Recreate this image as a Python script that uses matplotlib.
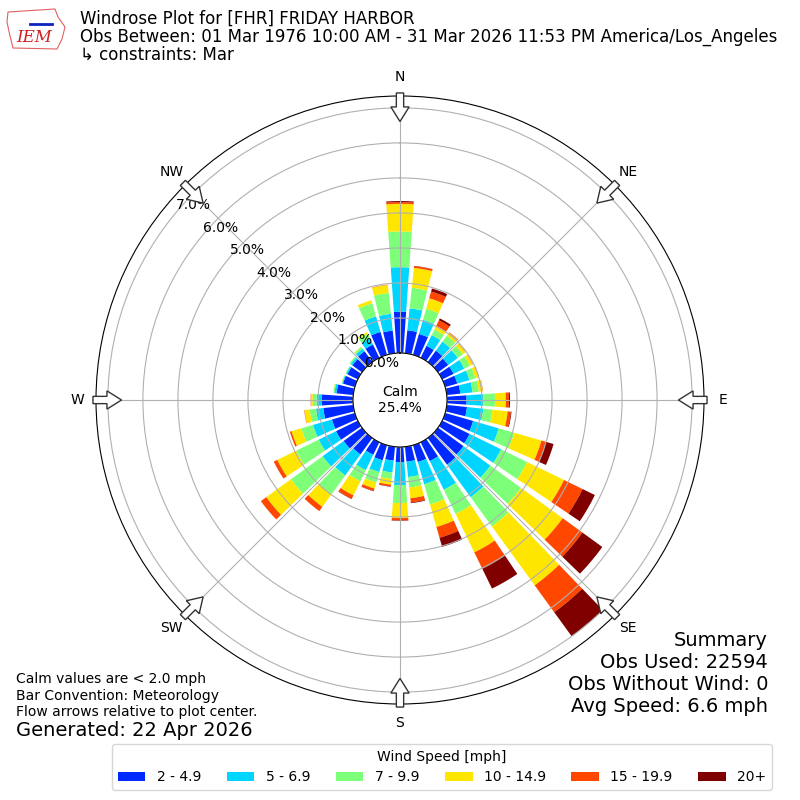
import numpy as np
import matplotlib
matplotlib.use("Agg")
import matplotlib.pyplot as plt
from matplotlib.patches import FancyArrow, Polygon

# wind directions (deg, meteorological, where the wind comes from)
directions = np.arange(0, 360, 10)

# percent of observations per direction for each speed bin
spd_2_5 = [1.18, 0.66, 0.62, 0.38, 0.40, 0.36, 0.36, 0.36, 0.39, 0.56, 0.58, 0.83,
           0.87, 0.90, 0.94, 0.60, 0.50, 0.43, 0.43, 0.40, 0.45, 0.40, 0.58, 0.65,
           0.69, 0.68, 0.86, 0.90, 0.48, 0.35, 0.33, 0.34, 0.38, 0.42, 0.68, 0.65]
spd_5_7 = [1.27, 0.63, 0.42, 0.34, 0.32, 0.34, 0.34, 0.36, 0.35, 0.48, 0.47, 0.76,
           1.00, 0.95, 1.15, 0.91, 0.66, 0.44, 0.66, 0.34, 0.35, 0.49, 0.74, 0.74,
           0.55, 0.56, 0.21, 0.14, 0.06, 0.03, 0.04, 0.06, 0.09, 0.20, 0.46, 0.48]
spd_7_10 = [1.02, 0.59, 0.33, 0.18, 0.21, 0.18, 0.18, 0.18, 0.18, 0.33, 0.26, 0.46,
            0.83, 1.08, 1.03, 0.77, 0.60, 0.30, 0.51, 0.19, 0.31, 0.35, 0.67, 1.12,
            0.72, 0.35, 0.18, 0.11, 0.03, 0.01, 0.02, 0.04, 0.06, 0.14, 0.39, 0.60]
spd_10_15 = [0.79, 0.57, 0.31, 0.11, 0.10, 0.09, 0.09, 0.10, 0.11, 0.31, 0.44, 0.81,
             1.17, 1.47, 2.08, 1.22, 0.67, 0.31, 0.43, 0.16, 0.18, 0.45, 0.44, 0.87,
             0.60, 0.29, 0.15, 0.05, 0.01, 0.01, 0.00, 0.00, 0.01, 0.05, 0.09, 0.23]
spd_15_20 = [0.05, 0.05, 0.20, 0.18, 0.02, 0.01, 0.01, 0.01, 0.01, 0.09, 0.09, 0.13,
             0.59, 0.70, 0.95, 0.52, 0.32, 0.12, 0.07, 0.05, 0.07, 0.11, 0.15, 0.19,
             0.11, 0.05, 0.01, 0.01, 0.00, 0.00, 0.00, 0.00, 0.00, 0.00, 0.00, 0.01]
spd_20p = [0.03, 0.01, 0.09, 0.06, 0.00, 0.00, 0.00, 0.00, 0.00, 0.03, 0.02, 0.23,
           0.39, 0.70, 0.85, 0.63, 0.27, 0.02, 0.01, 0.01, 0.01, 0.01, 0.00, 0.00,
           0.00, 0.00, 0.00, 0.00, 0.00, 0.00, 0.00, 0.00, 0.00, 0.00, 0.00, 0.00]

speed_bins = [spd_2_5, spd_5_7, spd_7_10, spd_10_15, spd_15_20, spd_20p]
bin_labels = ["2 - 4.9", "5 - 6.9", "7 - 9.9", "10 - 14.9", "15 - 19.9", "20+"]
calm_pct = 25.4
rticks = [0, 1, 2, 3, 4, 5, 6, 7]
compass = ["N", "NE", "E", "SE", "S", "SW", "W", "NW"]

colors = plt.get_cmap("jet")(np.linspace(0, 1, 7)[1:])

fig = plt.figure(figsize=(8, 8), dpi=100)
ax = fig.add_axes([0.12, 0.12, 0.76, 0.76], projection="polar")
ax.set_theta_zero_location("N")
ax.set_theta_direction(-1)

theta = np.deg2rad(directions)
width = np.deg2rad(10) * 0.8
base = np.zeros(len(directions))
handles = []
for vals, clr, lbl in zip(speed_bins, colors, bin_labels):
    vals = np.array(vals)
    b = ax.bar(theta, vals, width=width, bottom=base, color=clr, label=lbl,
               linewidth=0, zorder=1)
    handles.append(b)
    base = base + vals

rmax = 7.34
ax.set_rmax(rmax)
ax.set_rmin(0)
ax.set_rorigin(-47.0 / 257.0 * rmax)
ax.set_yticks(rticks)
ax.set_yticklabels(["%.1f%%" % t for t in rticks], fontsize=10)
ax.set_rlabel_position(310)
ax.set_thetagrids(np.arange(0, 360, 45), compass, fontsize=10)
ax.tick_params(axis="x", pad=3)
ax.grid(True, color="#b0b0b0", lw=0.8)

# flow arrows on the rim
for ang in np.deg2rad(np.arange(0, 360, 45)):
    ux, uy = np.sin(ang), np.cos(ang)
    r0 = 0.505
    length = 0.047
    ax.add_patch(FancyArrow(0.5 + r0 * ux, 0.5 + r0 * uy, -length * ux, -length * uy,
                            width=0.012, head_width=0.03, head_length=0.024,
                            length_includes_head=True, transform=ax.transAxes,
                            facecolor="white", edgecolor="#333333", lw=1.0,
                            clip_on=False, zorder=5))

ax.text(0.5, 0.5, "Calm\n%.1f%%" % calm_pct, transform=ax.transAxes,
        ha="center", va="center", fontsize=10, zorder=6)

# header
fig.text(80 / 800, 1 - 19 / 800, "Windrose Plot for [FHR] FRIDAY HARBOR",
         fontsize=12, va="center")
fig.text(80 / 800, 1 - 37 / 800,
         "Obs Between: 01 Mar 1976 10:00 AM - 31 Mar 2026 11:53 PM America/Los_Angeles",
         fontsize=12, va="center")
fig.text(80 / 800, 1 - 55 / 800, "\u21b3 constraints: Mar", fontsize=12, va="center")

# crude IEM logo
logo = [(8, 12), (55, 9), (58, 17), (65, 27), (62, 39), (57, 49), (13, 48), (10, 36), (7, 22)]
fig.patches.append(Polygon([(x / 800, 1 - y / 800) for x, y in logo], closed=True,
                           transform=fig.transFigure, fill=False, ec="#e06060", lw=0.8))
fig.lines.append(plt.Line2D([30 / 800, 52 / 800], [1 - 24 / 800, 1 - 24 / 800],
                            transform=fig.transFigure, color="#1020c0", lw=2))
fig.text(34 / 800, 1 - 38 / 800, "IEM", color="#d02020", fontsize=12, style="italic",
         family="serif", ha="center", va="center")

# footers
fig.text(16 / 800, 1 - 679 / 800, "Calm values are < 2.0 mph", fontsize=10, va="center")
fig.text(16 / 800, 1 - 696 / 800, "Bar Convention: Meteorology", fontsize=10, va="center")
fig.text(16 / 800, 1 - 712 / 800, "Flow arrows relative to plot center.", fontsize=10,
         va="center")
fig.text(16 / 800, 1 - 730 / 800, "Generated: 22 Apr 2026", fontsize=14, va="center")

summary = ["Summary", "Obs Used: 22594", "Obs Without Wind: 0", "Avg Speed: 6.6 mph"]
for i, line in enumerate(summary):
    fig.text(768 / 800, 1 - (640 + 22 * i) / 800, line, fontsize=14, ha="right",
             va="center")

fig.legend(handles, bin_labels, loc="center", bbox_to_anchor=(442 / 800, 1 - 767 / 800),
           ncol=6, title="Wind Speed [mph]", fontsize=10, title_fontsize=10,
           columnspacing=1.85)

fig.savefig("out.png", dpi=100)
